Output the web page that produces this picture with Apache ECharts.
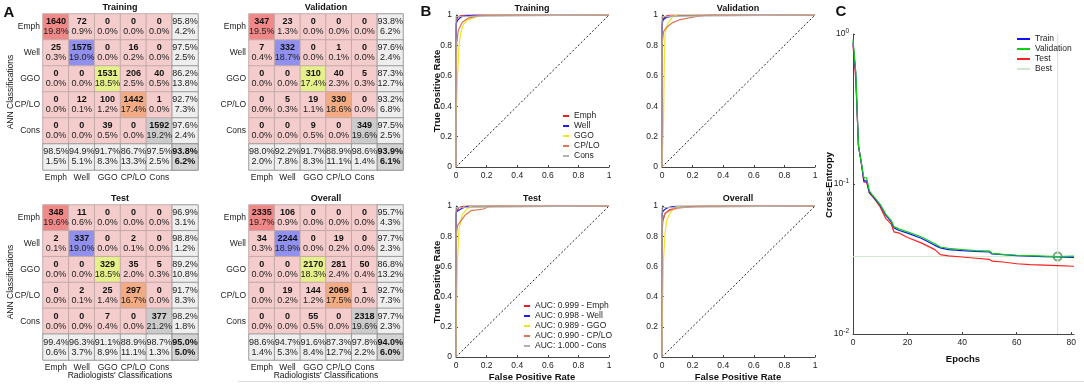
<!DOCTYPE html>
<html>
<head>
<meta charset="utf-8">
<script src="https://cdn.jsdelivr.net/npm/echarts@6/dist/echarts.min.js"></script>
<style>
  html, body { margin: 0; padding: 0; background: #fff; }
  #main { width: 1084px; height: 384px; }
</style>
</head>
<body>
<div id="main"></div>
<script>
// class names (rows = ANN, cols = radiologists)
var classes = ['Emph', 'Well', 'GGO', 'CP/LO', 'Cons'];

// confusion matrix counts
var cmTraining = [
    [1640, 72, 0, 0, 0],
    [25, 1575, 0, 16, 0],
    [0, 0, 1531, 206, 40],
    [0, 12, 100, 1442, 1],
    [0, 0, 39, 0, 1592]
];
var cmValidation = [
    [347, 23, 0, 0, 0],
    [7, 332, 0, 1, 0],
    [0, 0, 310, 40, 5],
    [0, 5, 19, 330, 0],
    [0, 0, 9, 0, 349]
];
var cmTest = [
    [348, 11, 0, 0, 0],
    [2, 337, 0, 2, 0],
    [0, 0, 329, 35, 5],
    [0, 2, 25, 297, 0],
    [0, 0, 7, 0, 377]
];
var cmOverall = [
    [2335, 106, 0, 0, 0],
    [34, 2244, 0, 19, 0],
    [0, 0, 2170, 281, 50],
    [0, 19, 144, 2069, 1],
    [0, 0, 55, 0, 2318]
];

// ROC curves [FPR, TPR], order: Emph, Well, GGO, CP/LO, Cons
var rocTraining = [
    [[0, 0], [0, 0.9], [0.003, 0.96], [0.01, 0.985], [0.03, 0.995], [0.06, 1], [1, 1]],
    [[0, 0], [0, 0.94], [0.01, 0.965], [0.03, 0.985], [0.06, 0.995], [0.12, 1], [1, 1]],
    [[0, 0], [0, 0.3], [0.01, 0.6], [0.02, 0.8], [0.03, 0.88], [0.05, 0.94], [0.08, 0.97], [0.14, 0.99], [0.2, 1], [1, 1]],
    [[0, 0], [0, 0.5], [0.005, 0.82], [0.015, 0.9], [0.04, 0.95], [0.08, 0.98], [0.15, 0.995], [0.25, 1], [1, 1]],
    [[0, 0], [0, 0.99], [0.01, 1], [1, 1]]
];
var rocValidation = [
    [[0, 0], [0, 0.92], [0.005, 0.97], [0.02, 0.99], [0.05, 1], [1, 1]],
    [[0, 0], [0, 0.95], [0.01, 0.97], [0.03, 0.985], [0.1, 0.995], [0.3, 1], [1, 1]],
    [[0, 0], [0.01, 0.3], [0.015, 0.7], [0.02, 0.88], [0.04, 0.95], [0.07, 0.99], [0.1, 1], [1, 1]],
    [[0, 0], [0, 0.8], [0.01, 0.89], [0.03, 0.92], [0.07, 0.95], [0.12, 0.97], [0.2, 0.985], [0.3, 1], [1, 1]],
    [[0, 0], [0, 0.99], [0.01, 1], [1, 1]]
];
var rocTest = [
    [[0, 0], [0, 0.93], [0.005, 0.97], [0.02, 0.99], [0.05, 1], [1, 1]],
    [[0, 0], [0, 0.96], [0.01, 0.97], [0.04, 0.985], [0.08, 1], [1, 1]],
    [[0, 0], [0.005, 0.4], [0.01, 0.65], [0.02, 0.85], [0.04, 0.94], [0.07, 0.98], [0.1, 1], [1, 1]],
    [[0, 0], [0, 0.8], [0.01, 0.87], [0.03, 0.9], [0.06, 0.94], [0.1, 0.97], [0.18, 0.98], [0.22, 1], [1, 1]],
    [[0, 0], [0, 0.99], [0.01, 1], [1, 1]]
];
var rocOverall = [
    [[0, 0], [0, 0.8], [0.005, 0.9], [0.02, 0.95], [0.05, 0.975], [0.1, 0.99], [0.2, 0.997], [0.3, 1], [1, 1]],
    [[0, 0], [0, 0.95], [0.01, 0.97], [0.03, 0.985], [0.06, 0.995], [0.1, 1], [1, 1]],
    [[0, 0], [0.005, 0.4], [0.01, 0.65], [0.02, 0.82], [0.03, 0.9], [0.05, 0.95], [0.08, 0.99], [0.12, 1], [1, 1]],
    [[0, 0], [0, 0.85], [0.005, 0.92], [0.02, 0.95], [0.05, 0.97], [0.1, 0.985], [0.2, 0.995], [0.3, 1], [1, 1]],
    [[0, 0], [0, 0.99], [0.01, 1], [1, 1]]
];
var aucTest = ['0.999', '0.998', '0.989', '0.990', '1.000'];

// cross-entropy per epoch
var ceEpochs = [0, 1, 2, 3, 4, 5, 6, 7, 8, 10, 12, 14, 15, 17, 20, 25, 30, 32, 35, 40, 45, 50, 51, 55, 60, 65, 70, 75, 81];
var ceTrain = [0.88, 0.55, 0.18, 0.14, 0.105, 0.105, 0.088, 0.084, 0.080, 0.072, 0.062, 0.056, 0.051, 0.049, 0.047, 0.0435, 0.039, 0.0375, 0.0365, 0.036, 0.0356, 0.0352, 0.0342, 0.0338, 0.0333, 0.033, 0.0328, 0.0327, 0.0324];
var ceValidation = [0.92, 0.56, 0.18, 0.14, 0.11, 0.11, 0.09, 0.085, 0.081, 0.073, 0.063, 0.057, 0.052, 0.050, 0.048, 0.0445, 0.040, 0.038, 0.0372, 0.0366, 0.036, 0.0358, 0.0345, 0.034, 0.0335, 0.0333, 0.0331, 0.0328, 0.0330];
var ceTest = [0.85, 0.5, 0.18, 0.14, 0.103, 0.103, 0.087, 0.083, 0.079, 0.070, 0.059, 0.054, 0.048, 0.047, 0.044, 0.0405, 0.0365, 0.0338, 0.0332, 0.0326, 0.032, 0.0314, 0.0306, 0.0302, 0.0294, 0.029, 0.0288, 0.0286, 0.0283];
var bestEpoch = 75;
var bestValue = 0.0328;

var FONT = 'Liberation Sans, Arial, Helvetica, sans-serif';
var diagColors = ['#f18888', '#9090ef', '#e6f08a', '#f2ab82', '#cbcbcb'];
var rocColors = ['#e8201c', '#1d1df0', '#e8e820', '#dd7452', '#b0b0b0'];

// build heatmap cells for one confusion matrix
function cmData(m) {
    var total = 0, diag = 0, i, j;
    var rowSum = [0, 0, 0, 0, 0], colSum = [0, 0, 0, 0, 0];
    for (i = 0; i < 5; i++) {
        for (j = 0; j < 5; j++) {
            total += m[i][j];
            rowSum[i] += m[i][j];
            colSum[j] += m[i][j];
        }
        diag += m[i][i];
    }
    var out = [];
    for (i = 0; i < 5; i++) {
        for (j = 0; j < 5; j++) {
            out.push({
                value: [j, i, m[i][j]],
                itemStyle: { color: i == j ? diagColors[i] : '#f5cccc', borderColor: '#c4aaaa' },
                label: { formatter: '{c|' + m[i][j] + '}\n{p|' + (m[i][j] / total * 100).toFixed(1) + '%}' }
            });
        }
    }
    // summary column and row
    for (i = 0; i < 5; i++) {
        var r = m[i][i] / rowSum[i] * 100;
        out.push({
            value: [5, i, r],
            itemStyle: { color: '#eeeeee', borderColor: '#9a9a9a' },
            label: { formatter: '{p|' + r.toFixed(1) + '%}\n{p|' + (100 - r).toFixed(1) + '%}' }
        });
        var c = m[i][i] / colSum[i] * 100;
        out.push({
            value: [i, 5, c],
            itemStyle: { color: '#eeeeee', borderColor: '#9a9a9a' },
            label: { formatter: '{p|' + c.toFixed(1) + '%}\n{p|' + (100 - c).toFixed(1) + '%}' }
        });
    }
    var t = diag / total * 100;
    out.push({
        value: [5, 5, t],
        itemStyle: { color: '#d4d4d4', borderColor: '#8a8a8a' },
        label: { formatter: '{c|' + t.toFixed(1) + '%}\n{c|' + (100 - t).toFixed(1) + '%}' }
    });
    return out;
}

var grids = [
    { left: 43, top: 14, width: 155, height: 156 },
    { left: 249, top: 14, width: 154, height: 156 },
    { left: 43, top: 205, width: 155, height: 155 },
    { left: 249, top: 205, width: 154, height: 155 },
    { left: 456, top: 15, width: 153, height: 152 },
    { left: 662, top: 15, width: 153, height: 152 },
    { left: 456, top: 206, width: 153, height: 151 },
    { left: 662, top: 206, width: 153, height: 151 },
    { left: 853, top: 34, width: 221, height: 300 }
];

var xAxes = [], yAxes = [], series = [];
var cms = [cmTraining, cmValidation, cmTest, cmOverall];

// confusion matrices
for (var g = 0; g < 4; g++) {
    xAxes.push({
        type: 'category', gridIndex: g, data: classes.concat(['']),
        axisLine: { show: false }, axisTick: { show: false },
        axisLabel: { fontSize: 8.5, color: '#222', margin: 3, interval: 0 }
    });
    yAxes.push({
        type: 'category', gridIndex: g, data: classes.concat(['']), inverse: true,
        axisLine: { show: false }, axisTick: { show: false },
        axisLabel: { fontSize: 8.5, color: '#222', margin: 3, interval: 0 }
    });
    series.push({
        type: 'heatmap', xAxisIndex: g, yAxisIndex: g,
        data: cmData(cms[g]),
        itemStyle: { borderWidth: 1 },
        label: {
            show: true, lineHeight: 10,
            rich: {
                c: { fontWeight: 'bold', fontSize: 9, lineHeight: 10, color: '#111' },
                p: { fontSize: 9, lineHeight: 10, color: '#222' }
            }
        },
        emphasis: { disabled: true }
    });
}

// ROC panels
var rocs = [rocTraining, rocValidation, rocTest, rocOverall];
for (var k = 0; k < 4; k++) {
    var gi = 4 + k;
    xAxes.push({
        type: 'value', gridIndex: gi, min: 0, max: 1, interval: 0.2,
        axisLine: { lineStyle: { color: '#444' } },
        axisTick: { inside: true, length: 2, lineStyle: { color: '#444' } },
        axisLabel: { fontSize: 8.5, color: '#222', margin: 4 },
        splitLine: { show: false }
    });
    yAxes.push({
        type: 'value', gridIndex: gi, min: 0, max: 1, interval: 0.2,
        axisLine: { show: true, lineStyle: { color: '#444' } },
        axisTick: { show: true, inside: true, length: 2, lineStyle: { color: '#444' } },
        axisLabel: { fontSize: 8.5, color: '#222', margin: 4 },
        splitLine: { show: false }
    });
    // chance diagonal
    series.push({
        type: 'line', xAxisIndex: gi, yAxisIndex: gi, data: [[0, 0], [1, 1]],
        showSymbol: false, silent: true,
        lineStyle: { color: '#222', width: 1, type: [2, 2] }
    });
    for (var s = 0; s < 5; s++) {
        series.push({
            name: k == 2 ? 'AUC: ' + aucTest[s] + ' - ' + classes[s] : classes[s],
            type: 'line', xAxisIndex: gi, yAxisIndex: gi,
            data: rocs[k][s], showSymbol: false,
            color: rocColors[s],
            lineStyle: { color: rocColors[s], width: 1.2 }
        });
    }
}

// cross-entropy panel
xAxes.push({
    type: 'value', gridIndex: 8, min: 0, max: 81, interval: 20,
    axisLine: { lineStyle: { color: '#444' } },
    axisTick: { inside: true, length: 2, lineStyle: { color: '#444' } },
    axisLabel: { fontSize: 8.5, color: '#222', margin: 4, showMaxLabel: false },
    splitLine: { show: false }
});
yAxes.push({
    type: 'log', logBase: 10, gridIndex: 8, min: 0.01, max: 1,
    axisLine: { show: true, lineStyle: { color: '#444' } },
    axisTick: { show: true, inside: true, length: 2, lineStyle: { color: '#444' } },
    axisLabel: {
        fontSize: 8.5, color: '#222', margin: 4,
        formatter: function (v) {
            return '10{s|' + Math.round(Math.log(v) / Math.LN10) + '}';
        },
        rich: { s: { fontSize: 6.5, color: '#222', padding: [0, 0, 6, 0] } }
    },
    splitLine: { show: false }
});

function pairs(xs, ys) {
    return xs.map(function (x, i) { return [x, ys[i]]; });
}
series.push(
    { name: 'Best', type: 'line', xAxisIndex: 8, yAxisIndex: 8, data: [[0, bestValue], [81, bestValue]], showSymbol: false, color: '#cfe6cf', lineStyle: { color: '#cfe6cf', width: 1 } },
    { name: 'Best', type: 'line', xAxisIndex: 8, yAxisIndex: 8, data: [[bestEpoch, 0.01], [bestEpoch, 1]], showSymbol: false, color: '#cfe6cf', lineStyle: { color: '#cfe6cf', width: 1 } },
    { name: 'Test', type: 'line', xAxisIndex: 8, yAxisIndex: 8, data: pairs(ceEpochs, ceTest), showSymbol: false, color: '#ff2020', lineStyle: { width: 1.2 } },
    { name: 'Train', type: 'line', xAxisIndex: 8, yAxisIndex: 8, data: pairs(ceEpochs, ceTrain), showSymbol: false, color: '#1010ff', lineStyle: { width: 1.2 } },
    { name: 'Validation', type: 'line', xAxisIndex: 8, yAxisIndex: 8, data: pairs(ceEpochs, ceValidation), showSymbol: false, color: '#10d010', lineStyle: { width: 1.2 } },
    { type: 'scatter', xAxisIndex: 8, yAxisIndex: 8, data: [[bestEpoch, bestValue]], symbol: 'emptyCircle', symbolSize: 8, itemStyle: { color: '#5f935f', borderWidth: 1 } }
);

// helper for plain text labels
function txt(text, x, y, size, bold, rot) {
    return {
        type: 'text', x: x, y: y, rotation: rot || 0, silent: true,
        style: {
            text: text, fontSize: size, fontWeight: bold ? 'bold' : 'normal', fontFamily: FONT,
            fill: '#111', align: 'center', verticalAlign: 'middle'
        }
    };
}

var legendText = { fontSize: 8.5, color: '#222', lineHeight: 10 };

var option = {
    animation: false,
    textStyle: { fontFamily: FONT },
    grid: grids,
    xAxis: xAxes,
    yAxis: yAxes,
    legend: [
        { data: classes, orient: 'vertical', left: 563, top: 111, icon: 'rect', itemWidth: 6, itemHeight: 2, itemGap: 0, padding: 0, textStyle: legendText },
        { data: classes.map(function (c, i) { return 'AUC: ' + aucTest[i] + ' - ' + c; }), orient: 'vertical', left: 524, top: 301, icon: 'rect', itemWidth: 6, itemHeight: 2, itemGap: 0, padding: 0, textStyle: legendText },
        { data: ['Train', 'Validation', 'Test', 'Best'], orient: 'vertical', left: 1017, top: 34, icon: 'rect', itemWidth: 13, itemHeight: 2, itemGap: 0, padding: 0, itemStyle: { borderWidth: 0 }, textStyle: legendText }
    ],
    graphic: [
        txt('A', 9, 13, 15, true),
        txt('B', 426, 12, 15, true),
        txt('C', 841, 12, 15, true),
        txt('Training', 120, 8, 9, true),
        txt('Validation', 326, 8, 9, true),
        txt('Test', 120, 199, 9, true),
        txt('Overall', 326, 199, 9, true),
        txt('Training', 532, 9, 9, true),
        txt('Validation', 738, 9, 9, true),
        txt('Test', 532, 199, 9, true),
        txt('Overall', 738, 199, 9, true),
        txt('ANN Classifications', 11, 92, 8.5, false, Math.PI / 2),
        txt('ANN Classifications', 11, 282, 8.5, false, Math.PI / 2),
        txt("Radiologists' Classifications", 120, 376, 8.5, false),
        txt("Radiologists' Classifications", 326, 376, 8.5, false),
        txt('True Positive Rate', 437, 91, 9.5, true, Math.PI / 2),
        txt('True Positive Rate', 437, 282, 9.5, true, Math.PI / 2),
        txt('False Positive Rate', 532, 377, 9.5, true),
        txt('False Positive Rate', 738, 377, 9.5, true),
        txt('Cross-Entropy', 829, 185, 9.5, true, Math.PI / 2),
        txt('Epochs', 963, 359, 9.5, true),
        { type: 'line', silent: true, shape: { x1: 238, y1: 381.5, x2: 1084, y2: 381.5 }, style: { stroke: '#dddddd', lineWidth: 1 } }
    ],
    series: series
};

var chart = echarts.init(document.getElementById('main'));
chart.setOption(option);
</script>
</body>
</html>
